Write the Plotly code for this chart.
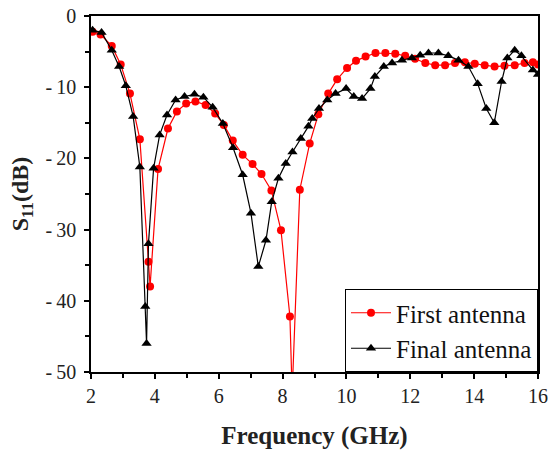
import plotly.graph_objects as go

# S11 curves
freq_first = [2.05, 2.3, 2.65, 2.93, 3.22, 3.53, 3.8, 3.85, 4.1, 4.41, 4.69, 4.98, 5.27, 5.59,
              5.89, 6.16, 6.44, 6.75, 7.06, 7.34, 7.65, 7.95, 8.23, 8.3, 8.54, 8.85, 9.12, 9.43,
              9.71, 10.02, 10.3, 10.6, 10.91, 11.22, 11.53, 11.84, 12.15, 12.47, 12.78, 13.09,
              13.4, 13.71, 14.02, 14.33, 14.64, 14.95, 15.27, 15.58, 15.84, 16.0]
s11_first = [-2.2, -2.6, -4.2, -6.8, -10.9, -17.3, -34.5, -38.0, -21.5, -15.8, -13.4, -12.3,
             -12.0, -12.5, -13.7, -15.3, -17.5, -19.5, -20.8, -22.2, -24.5, -30.1, -42.2, -53.0,
             -24.4, -17.9, -13.8, -10.9, -8.9, -7.3, -6.3, -5.7, -5.2, -5.2, -5.3, -5.6, -6.0,
             -6.6, -6.9, -6.9, -6.6, -6.5, -6.7, -6.9, -7.1, -7.0, -6.9, -6.6, -6.5, -6.8]

freq_final = [2.05, 2.33, 2.65, 2.88, 3.09, 3.32, 3.53, 3.7, 3.74, 3.8, 3.96, 4.15, 4.38, 4.65,
              4.93, 5.24, 5.52, 5.81, 6.13, 6.45, 6.75, 7.01, 7.24, 7.48, 7.66, 7.87, 8.1, 8.31,
              8.57, 8.81, 8.93, 9.14, 9.4, 9.66, 9.99, 10.23, 10.49, 10.75, 10.89, 11.17, 11.43,
              11.74, 12.05, 12.31, 12.57, 12.88, 13.19, 13.51, 13.82, 14.11, 14.38, 14.63,
              14.86, 15.04, 15.27, 15.48, 15.84, 16.0]
s11_final = [-2.0, -2.3, -4.8, -7.1, -9.8, -14.1, -21.2, -40.8, -46.0, -32.0, -21.4, -16.7,
             -13.9, -11.8, -11.3, -11.0, -11.4, -12.8, -15.1, -18.5, -22.3, -27.7, -35.2, -31.5,
             -26.1, -22.8, -20.7, -19.1, -17.2, -15.5, -14.4, -13.0, -11.8, -10.9, -10.2, -11.3,
             -11.6, -10.2, -8.5, -7.1, -6.6, -6.2, -5.9, -5.5, -5.2, -5.2, -5.6, -6.2, -7.1,
             -9.5, -13.0, -15.0, -9.2, -5.9, -4.8, -5.6, -7.6, -8.2]

x_ticks = [2, 4, 6, 8, 10, 12, 14, 16]
y_ticks = [0, -10, -20, -30, -40, -50]
y_labels = ["0", "-\u200910", "-\u200920", "-\u200930", "-\u200940", "-\u200950"]

serif = "Liberation Serif, Times New Roman, serif"

fig = go.Figure()
fig.add_trace(go.Scatter(x=freq_first, y=s11_first, mode="lines+markers", name="First antenna",
                         line=dict(color="#ff0000", width=1.2),
                         marker=dict(symbol="circle", size=8, color="#ff0000")))
fig.add_trace(go.Scatter(x=freq_final, y=s11_final, mode="lines+markers", name="Final antenna",
                         line=dict(color="black", width=1.2),
                         marker=dict(symbol="triangle-up", size=9, color="black")))

axis_style = dict(showline=True, linecolor="black", linewidth=1.5, mirror=True, automargin=False,
                  showgrid=False, zeroline=False, ticks="outside", ticklen=5,
                  tickwidth=1.5, tickcolor="black",
                  tickfont=dict(family=serif, size=20, color="#222"))

fig.update_xaxes(range=[2, 16], tickvals=x_ticks,
                 minor=dict(dtick=1, ticks="outside", ticklen=4, tickcolor="black"),
                 title=dict(text="<b>Frequency (GHz)</b>", font=dict(family=serif, size=25, color="#222"),
                            standoff=21),
                 **axis_style)
fig.update_yaxes(range=[-50, 0], tickvals=y_ticks, ticktext=y_labels, ticklabelstandoff=4,
                 minor=dict(dtick=5, ticks="outside", ticklen=4, tickcolor="black"),
                 title=dict(text="<b>S<sub>11</sub>(dB)</b>", font=dict(family=serif, size=24, color="#222"),
                            standoff=10),
                 **axis_style)

fig.update_layout(
    width=548, height=455,
    margin=dict(l=91, r=10, t=16, b=83),
    plot_bgcolor="white", paper_bgcolor="white",
    legend=dict(x=1, y=0, xanchor="right", yanchor="bottom",
                bgcolor="white", bordercolor="black", borderwidth=1,
                font=dict(family=serif, size=25, color="#111"),
                tracegroupgap=0, itemwidth=40),
)

# drop the default 8px page margin so the figure sits at the window corner
fig.write_html("out.html", config={"displayModeBar": False},
               post_script="document.body.style.margin='0';")
